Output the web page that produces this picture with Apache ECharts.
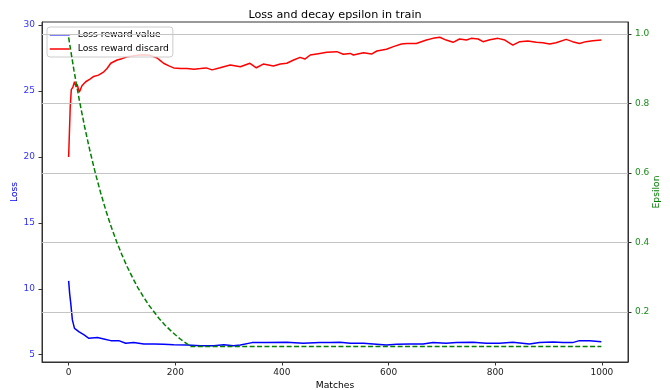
<!DOCTYPE html>
<html>
<head>
<meta charset="utf-8">
<script src="https://cdn.jsdelivr.net/npm/echarts@6/dist/echarts.min.js"></script>
<style>
html,body{margin:0;padding:0;background:#fff;}
#chart{width:670px;height:390px;}
</style>
</head>
<body>
<div id="chart"></div>
<script>
// ---- data ----
const chartTitle = 'Loss and decay epsilon in train';
const xTicks = [0, 200, 400, 600, 800, 1000];
const lossTicks = [5, 10, 15, 20, 25, 30];
const epsTicks = [0.2, 0.4, 0.6, 0.8, 1.0];

const valueMatches = [0,2,4,7,11,19,29,38,54,66,79,94,107,122,141,160,178,197,222,247,272,291,309,322,344,372,409,440,471,490,509,528,553,571,596,615,640,665,683,708,727,758,783,808,833,864,883,908,927,945,958,977,999];
const valueLoss = [10.6,9.6,8.9,7.64,7.0,6.75,6.5,6.25,6.3,6.2,6.07,6.07,5.87,5.92,5.82,5.82,5.79,5.76,5.74,5.69,5.69,5.76,5.69,5.74,5.92,5.92,5.94,5.87,5.92,5.92,5.94,5.87,5.87,5.82,5.74,5.79,5.82,5.82,5.92,5.87,5.92,5.94,5.87,5.87,5.94,5.82,5.92,5.97,5.92,5.92,6.07,6.07,5.99];

const discardMatches = [0,3,5,8,11,14,16,20,25,32,40,47,56,66,72,79,91,100,110,120,129,140,153,160,166,172,178,188,197,210,222,235,247,258,269,284,303,322,340,352,365,384,397,409,422,434,443,453,471,484,503,515,528,534,553,568,578,596,609,624,634,652,671,683,696,708,721,733,746,755,768,777,790,805,818,833,846,861,877,889,902,914,933,945,958,970,983,999];
const discardLoss = [20.0,23.8,25.1,25.3,25.7,25.3,25.5,24.9,25.4,25.7,25.9,26.1,26.2,26.45,26.7,27.1,27.35,27.45,27.6,27.65,27.7,27.75,27.7,27.6,27.5,27.3,27.1,26.9,26.75,26.7,26.7,26.65,26.7,26.75,26.6,26.76,26.97,26.84,27.1,26.76,27.04,26.9,27.04,27.1,27.35,27.55,27.42,27.73,27.85,27.93,27.98,27.78,27.85,27.73,27.9,27.8,28.03,28.16,28.36,28.56,28.6,28.6,28.86,28.99,29.07,28.86,28.69,28.94,28.86,28.99,28.94,28.74,28.88,28.99,28.86,28.48,28.74,28.79,28.69,28.66,28.56,28.66,28.91,28.74,28.6,28.74,28.81,28.86];

const epsMatches = [0,10,20,30,40,50,60,70,80,90,100,110,120,130,140,150,160,170,180,190,200,210,220,229,999];
const epsValues = [0.99,0.895,0.81,0.733,0.663,0.6,0.543,0.491,0.444,0.402,0.364,0.329,0.298,0.269,0.244,0.22,0.2,0.18,0.163,0.148,0.134,0.121,0.11,0.1,0.1];

const zip = (a, b) => a.map((v, i) => [v, b[i]]);

const FONT = 'DejaVu Sans';
const chart = echarts.init(document.getElementById('chart'), null, {renderer: 'canvas'});

chart.setOption({
  animation: false,
  backgroundColor: '#fff',
  textStyle: {fontFamily: FONT},
  title: {
    text: chartTitle, left: 'center', top: 5,
    textStyle: {fontFamily: FONT, fontSize: 11.2, fontWeight: 'normal', color: '#000'}
  },
  legend: {
    orient: 'vertical', left: 47, top: 27, z: 3,
    padding: [3, 4, 3, 2], itemGap: 4, itemWidth: 20, itemHeight: 10,
    backgroundColor: 'rgba(255,255,255,0.8)', borderColor: '#cccccc', borderWidth: 1, borderRadius: 3,
    itemStyle: {opacity: 0},
    data: [
      {name: 'Loss reward value', lineStyle: {color: '#5555ff', width: 1.5}},
      {name: 'Loss reward discard', lineStyle: {color: '#ff0000', width: 1.5}}
    ],
    textStyle: {fontFamily: FONT, fontSize: 9.2, color: '#000', lineHeight: 10, padding: [0, 0, 0, 3]}
  },
  grid: {left: 42, right: 42, top: 22, bottom: 28, containLabel: false, outerBoundsMode: 'none',
    show: true, borderColor: '#333', borderWidth: 1, backgroundColor: 'transparent'},
  xAxis: {
    type: 'value', min: -49.95, max: 1048.95,
    name: 'Matches', nameLocation: 'middle', nameGap: 19, nameMoveOverlap: false,
    nameTextStyle: {fontFamily: FONT, fontSize: 9.2, color: '#000'},
    axisLine: {show: true, onZero: false, lineStyle: {color: '#333'}},
    axisTick: {show: true, length: 3.5, lineStyle: {color: '#333'}, customValues: xTicks},
    axisLabel: {fontFamily: FONT, fontSize: 9, color: '#222', margin: 6, customValues: xTicks,
      formatter: v => String(v)},
    splitLine: {show: false}
  },
  yAxis: [{
    type: 'value', min: 4.45, max: 30.23, position: 'left',
    name: 'Loss', nameLocation: 'middle', nameGap: 23, nameMoveOverlap: false,
    nameTextStyle: {fontFamily: FONT, fontSize: 9.2, color: '#0000ff'},
    axisLine: {show: true, onZero: false, lineStyle: {color: '#333'}},
    axisTick: {show: true, length: 3.5, lineStyle: {color: '#333'}, customValues: lossTicks},
    axisLabel: {fontFamily: FONT, fontSize: 9, color: '#3333ff', margin: 7, customValues: lossTicks,
      formatter: v => String(v)},
    splitLine: {show: false}
  }, {
    type: 'value', min: 0.0555, max: 1.0346, position: 'right',
    name: 'Epsilon', nameLocation: 'middle', nameGap: 24, nameMoveOverlap: false,
    nameTextStyle: {fontFamily: FONT, fontSize: 9.2, color: '#008000'},
    axisLine: {show: true, onZero: false, lineStyle: {color: '#333'}},
    axisTick: {show: true, length: 3.5, lineStyle: {color: '#333'}, customValues: epsTicks},
    axisLabel: {fontFamily: FONT, fontSize: 9, color: '#1a8c1a', margin: 7, customValues: epsTicks,
      formatter: v => v.toFixed(1)},
    splitLine: {show: false}
  }],
  series: [{
    name: 'gridlines', type: 'line', yAxisIndex: 1, data: [], z: 1, silent: true,
    markLine: {
      silent: true, symbol: 'none', animation: false,
      label: {show: false},
      lineStyle: {color: '#c4c4c4', width: 1, type: 'solid'},
      data: epsTicks.map(v => ({yAxis: v}))
    }
  }, {
    name: 'Loss reward value', type: 'line', yAxisIndex: 0, z: 2,
    symbol: 'none', color: '#0000ff',
    lineStyle: {color: '#0000ff', width: 1.5},
    data: zip(valueMatches, valueLoss)
  }, {
    name: 'Loss reward discard', type: 'line', yAxisIndex: 0, z: 2,
    symbol: 'none', color: '#ff0000',
    lineStyle: {color: '#ff0000', width: 1.5},
    data: zip(discardMatches, discardLoss)
  }, {
    name: 'Epsilon', type: 'line', yAxisIndex: 1, z: 5,
    symbol: 'none', color: '#008000',
    lineStyle: {color: '#008000', width: 1.5, type: [5, 2.4]},
    data: zip(epsMatches, epsValues)
  }]
});
</script>
</body>
</html>
